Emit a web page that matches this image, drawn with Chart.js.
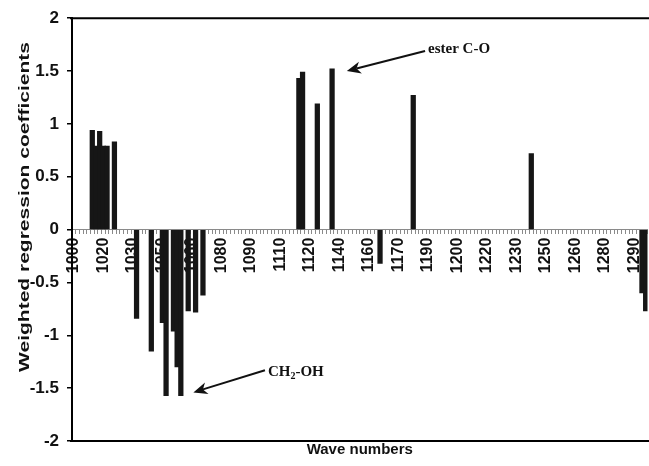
<!DOCTYPE html>
<html lang="en">
<head>
  <meta charset="UTF-8">
  <title>Weighted regression coefficients</title>
  <script src="https://cdn.jsdelivr.net/npm/chart.js"></script>
  <style>
    html, body { margin: 0; padding: 0; background: #fff; }
    .chart-box { width: 649px; height: 466px; }
  </style>
</head>
<body>
  <div class="chart-box">
    <canvas id="coefChart" width="649" height="466"></canvas>
  </div>

  <script>
    // spectral points on the category axis (one label every 8 points)
    const pointCount = 156;
    const tickLabels = ['1000', '1020', '1030', '1050', '1060', '1080', '1090', '1110', '1120', '1140',
                        '1160', '1170', '1190', '1200', '1220', '1230', '1250', '1260', '1280', '1290'];

    // selected points and their weighted coefficients
    const barIndex = [5, 6, 7, 8, 9, 11,
                      17, 21, 24, 25, 27, 28, 29, 31, 33, 35,
                      61, 62, 66, 70, 83, 92, 124, 154, 155];
    const barValue = [0.94, 0.79, 0.93, 0.79, 0.79, 0.83,
                      -0.84, -1.15, -0.88, -1.57, -0.96, -1.30, -1.57, -0.77, -0.78, -0.62,
                      1.43, 1.49, 1.19, 1.52, -0.32, 1.27, 0.72, -0.60, -0.77];

    // arrows with notes (point index / coefficient)
    const noteText = ['ester C-O', 'CH2-OH'];
    const noteTipIndex = [74, 32.4];
    const noteTipValue = [1.5, -1.54];
    const noteTailIndex = [95.2, 51.8];
    const noteTailValue = [1.69, -1.33];

    const serif = "'Liberation Serif', 'Times New Roman', serif";
    Chart.defaults.font.family = "'Liberation Sans', Arial, sans-serif";
    Chart.defaults.color = '#111';

    // table for the library
    const labels = [];
    const values = [];
    for (let i = 0; i < pointCount; i++) {
      labels.push(i);
      values.push(null);
    }
    barIndex.forEach((p, k) => { values[p] = barValue[k]; });

    // plot frame (top and bottom edges)
    const framePlugin = {
      id: 'frame',
      afterDraw(chart) {
        const { ctx, chartArea } = chart;
        ctx.save();
        ctx.strokeStyle = '#000';
        ctx.lineWidth = 2;
        ctx.beginPath();
        ctx.moveTo(chartArea.left - 2, chartArea.top);
        ctx.lineTo(chart.width, chartArea.top);
        ctx.moveTo(chartArea.left - 2, chartArea.bottom);
        ctx.lineTo(chart.width, chartArea.bottom);
        ctx.stroke();
        ctx.restore();
      }
    };

    // arrows, notes and the y title
    const notesPlugin = {
      id: 'notes',
      afterDraw(chart) {
        const { ctx } = chart;
        const xs = chart.scales.x;
        const ys = chart.scales.y;
        ctx.save();
        noteText.forEach((t, k) => {
          const x1 = xs.getPixelForValue(noteTailIndex[k]);
          const y1 = ys.getPixelForValue(noteTailValue[k]);
          const x2 = xs.getPixelForValue(noteTipIndex[k]);
          const y2 = ys.getPixelForValue(noteTipValue[k]);
          const a = Math.atan2(y2 - y1, x2 - x1);
          ctx.strokeStyle = '#111';
          ctx.fillStyle = '#111';
          ctx.lineWidth = 2;
          ctx.beginPath();
          ctx.moveTo(x1, y1);
          ctx.lineTo(x2 - 10 * Math.cos(a), y2 - 10 * Math.sin(a));
          ctx.stroke();
          ctx.beginPath();
          ctx.moveTo(x2, y2);
          ctx.lineTo(x2 - 14 * Math.cos(a) + 6 * Math.sin(a), y2 - 14 * Math.sin(a) - 6 * Math.cos(a));
          ctx.lineTo(x2 - 10 * Math.cos(a), y2 - 10 * Math.sin(a));
          ctx.lineTo(x2 - 14 * Math.cos(a) - 6 * Math.sin(a), y2 - 14 * Math.sin(a) + 6 * Math.cos(a));
          ctx.closePath();
          ctx.fill();

          // text starts just right of the arrow tail
          let tx = x1 + 3;
          const ty = y1 + 2;
          ctx.textBaseline = 'middle';
          ctx.textAlign = 'left';
          const m = t.match(/^(CH)(2)(.*)$/);
          if (m) {
            ctx.font = 'bold 15px ' + serif;
            ctx.fillText(m[1], tx, ty);
            tx += ctx.measureText(m[1]).width;
            ctx.font = 'bold 10px ' + serif;
            ctx.fillText(m[2], tx, ty + 4);
            tx += ctx.measureText(m[2]).width;
            ctx.font = 'bold 15px ' + serif;
            ctx.fillText(m[3], tx, ty);
          } else {
            ctx.font = 'bold 15px ' + serif;
            ctx.fillText(t, tx, ty - 4);
          }
        });

        // y title, stretched like the original figure
        ctx.translate(25, 207);
        ctx.rotate(-Math.PI / 2);
        ctx.scale(1.4, 1);
        ctx.font = "bold 15px 'Liberation Sans', Arial, sans-serif";
        ctx.textAlign = 'center';
        ctx.textBaseline = 'middle';
        ctx.fillText('Weighted regression coefficients', 0, 0);
        ctx.restore();
      }
    };

    new Chart(document.getElementById('coefChart'), {
      type: 'bar',
      data: {
        labels: labels,
        datasets: [{
          label: 'Weighted regression coefficients',
          data: values,
          backgroundColor: '#161616',
          borderWidth: 0,
          barThickness: 4.6
        }]
      },
      options: {
        responsive: false,
        animation: false,
        devicePixelRatio: 1,
        layout: { padding: { top: 17, right: 1.5, left: 0, bottom: 0 } },
        plugins: {
          legend: { display: false },
          tooltip: { enabled: false }
        },
        scales: {
          x: {
            type: 'category',
            position: { y: 0 },
            offset: true,
            grid: { offset: true, drawOnChartArea: false, tickLength: 4, color: '#8a8a8a' },
            border: { color: '#8a8a8a', width: 1 },
            ticks: {
              autoSkip: false,
              minRotation: 90,
              maxRotation: 90,
              labelOffset: 0,
              padding: 4,
              font: { size: 16, weight: 'bold' },
              callback: (v, i) => (i % 8 === 0 ? tickLabels[i / 8] : '')
            },
            // the rotated labels must not shrink the plot width
            afterFit: (s) => { s.paddingLeft = 0; s.paddingRight = 0; }
          },
          x2: {
            type: 'category',
            position: 'bottom',
            grid: { display: false, drawTicks: false },
            border: { display: false },
            ticks: { display: false },
            title: {
              display: true,
              text: 'Wave numbers',
              font: { size: 15, weight: 'bold' },
              padding: { top: 0, bottom: 7 }
            }
          },
          y: {
            min: -2,
            max: 2,
            ticks: {
              stepSize: 0.5,
              padding: 8,
              font: { size: 17, weight: 'bold' },
              callback: (v) => String(Math.round(v * 10) / 10)
            },
            grid: { drawOnChartArea: false, tickLength: 5, color: '#000', lineWidth: 1.5 },
            border: { color: '#000', width: 2 },
            afterFit: (s) => { s.width = 72; }
          }
        }
      },
      plugins: [framePlugin, notesPlugin]
    });
  </script>
</body>
</html>
